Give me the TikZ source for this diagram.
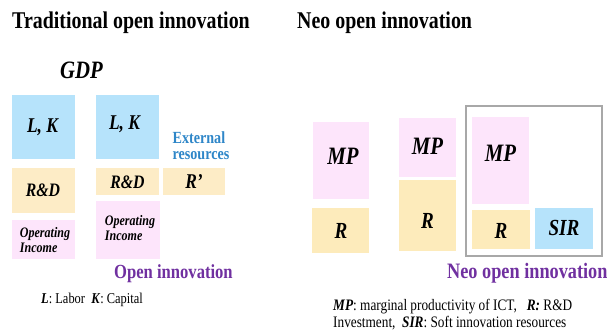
\documentclass[tikz,border=0pt]{standalone}
\usepackage{fontspec}
\setmainfont{Liberation Serif}[FakeStretch=0.83]
\definecolor{boxblue}{HTML}{B6E3FB}
\definecolor{boxtan}{HTML}{FDECC6}
\definecolor{boxtanb}{HTML}{FDEBBB}
\definecolor{boxpink}{HTML}{FDE5FB}
\definecolor{extblue}{HTML}{2E86C8}
\definecolor{oipurple}{HTML}{7030A0}
\definecolor{framegray}{HTML}{A8A8A8}
\tikzset{
  blk/.style={rectangle, inner sep=0pt, draw=none},
  lab/.style={inner sep=0pt, font=\bfseries\itshape\fontsize{#1}{#1}\selectfont},
  optxt/.style={inner sep=0pt, align=left, font=\bfseries\itshape\fontsize{14.5}{15}\selectfont},
  ttl/.style={inner sep=0pt, anchor=base west, font=\bfseries\fontsize{24}{24}\selectfont},
  oi/.style={inner sep=0pt, anchor=base west, text=oipurple, font=\bfseries\fontsize{#1}{#1}\selectfont},
  captxt/.style={inner sep=0pt, anchor=base west, font=\fontsize{#1}{#1}\selectfont}
}
\newcommand{\blkbox}[6]{% name, x1, y1, x2, y2, colour
  \node[blk, fill=#6, minimum width={(#4-#2)*1pt}, minimum height={(#5-#3)*1pt}] (#1) at ({(#2+#4)/2},{(#3+#5)/2}) {};}
\begin{document}
\begin{tikzpicture}[x=1pt,y=-1pt]
\useasboundingbox (0,0) rectangle (607,331);
% titles
\node[ttl] (t1) at (12,29) {Traditional open innovation};
\node[ttl] (t2) at (297,29) {Neo open innovation};
\node[lab=25, anchor=base west] (gdp) at (60,79) {GDP};
% left panel boxes
\blkbox{lk1}{12}{95}{75}{159}{boxblue}
\blkbox{lk2}{96}{95}{159}{159}{boxblue}
\blkbox{rd1}{12}{168}{75}{213}{boxtan}
\blkbox{rd2}{96}{168}{159}{195}{boxtan}
\blkbox{rp}{163}{168}{225}{195}{boxtan}
\blkbox{oi1}{12}{220}{75}{259}{boxpink}
\blkbox{oi2}{96}{201}{160}{259}{boxpink}
\node[lab=21] (tlk1) at (42.5,127) {L, K};
\node[lab=21] (tlk2) at (124.5,124.5) {L, K};
\node[lab=19] (trd1) at (43,190) {R\&D};
\node[lab=19] (trd2) at (127.5,182.5) {R\&D};
\node[lab=21] (trp) at (194,181.5) {R’};
\node[optxt] (toi1) at (45,240) {Operating\\Income};
\node[optxt] (toi2) at (130,228.5) {Operating\\Income};
\node[inner sep=0pt, align=left, text=extblue, font=\bfseries\fontsize{17}{16}\selectfont] (ext) at (201,146) {External\\resources};
\node[oi=20] (open) at (114,278) {Open innovation};
\node[captxt=15] (lkcap) at (41,303) {\textbf{\textit{L}}: Labor\ \ \textbf{\textit{K}}: Capital};
% right panel
\draw[framegray, line width=1.4pt] (466,106) rectangle (602,256);
\node[inner sep=0pt, minimum width=136pt, minimum height=150pt] (frame) at (534,181) {};
\blkbox{mp1}{313}{122}{369}{199}{boxpink}
\blkbox{r1}{312}{208}{369}{253}{boxtanb}
\blkbox{mp2}{399}{118}{456}{177}{boxpink}
\blkbox{r2}{399}{180}{456}{251}{boxtanb}
\blkbox{mp3}{472}{117}{529}{204}{boxpink}
\blkbox{r3}{472}{210}{530}{249}{boxtanb}
\blkbox{sir}{535}{208}{593}{249}{boxblue}
\node[lab=25] (tmp1) at (343,156) {MP};
\node[lab=23] (tr1) at (341,231) {R};
\node[lab=25] (tmp2) at (427.5,146) {MP};
\node[lab=23] (tr2) at (427.5,220.5) {R};
\node[lab=25] (tmp3) at (500.5,153) {MP};
\node[lab=23] (tr3) at (501,231) {R};
\node[lab=23] (tsir) at (564,227.5) {SIR};
\node[oi=22] (neo) at (447,278) {Neo open innovation};
\node[captxt=16] (c1) at (333,310) {\textbf{\textit{MP}}: marginal productivity of ICT,\ \ \ \textbf{\textit{R:}} R\&D};
\node[captxt=16] (c2) at (333,327) {Investment,\ \ \textbf{\textit{SIR}}: Soft innovation resources};
\end{tikzpicture}
\end{document}
